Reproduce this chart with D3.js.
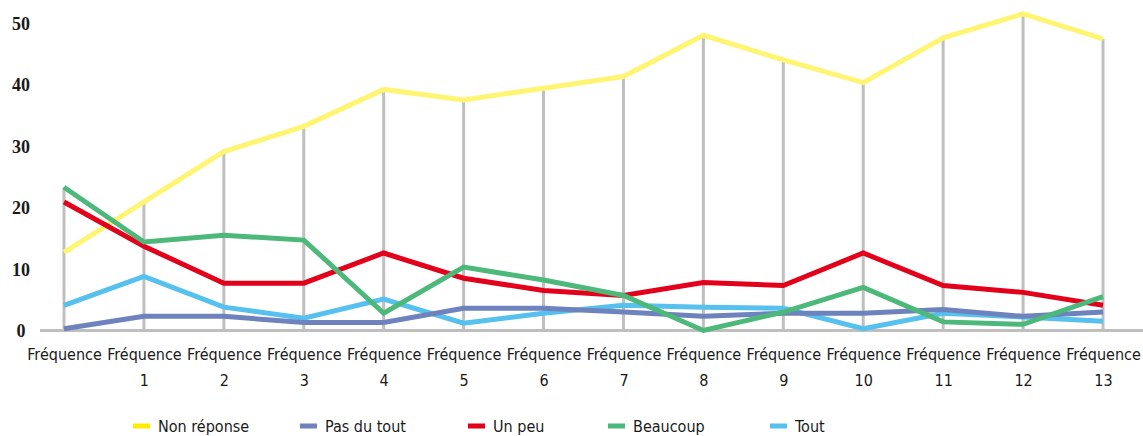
<!DOCTYPE html>
<html>
<head>
<meta charset="utf-8">
<script src="https://cdn.jsdelivr.net/npm/d3@7"></script>
<style>
  html, body { margin: 0; padding: 0; background: #fff; }
  svg { display: block; }
  .lbl { font-family: 'DejaVu Sans Condensed', 'DejaVu Sans', sans-serif; font-stretch: condensed; }
</style>
</head>
<body>
<svg id="chart" width="1143" height="436"></svg>
<script>
// ---- data ----
const categories = ["Fréquence", "Fréquence 1", "Fréquence 2", "Fréquence 3", "Fréquence 4", "Fréquence 5", "Fréquence 6",
  "Fréquence 7", "Fréquence 8", "Fréquence 9", "Fréquence 10", "Fréquence 11", "Fréquence 12", "Fréquence 13"];
const seriesNames = ["Non réponse", "Pas du tout", "Un peu", "Beaucoup", "Tout"];
const nonReponse = [12.7, 20.9, 29.1, 33.2, 39.2, 37.5, 39.4, 41.3, 48.0, 44.0, 40.3, 47.6, 51.5, 47.4];
const pasDuTout  = [0.3, 2.3, 2.3, 1.3, 1.3, 3.6, 3.6, 3.0, 2.3, 2.8, 2.8, 3.4, 2.3, 3.0];
const unPeu      = [20.9, 13.7, 7.7, 7.7, 12.6, 8.5, 6.5, 5.7, 7.8, 7.3, 12.6, 7.3, 6.2, 4.1];
const beaucoup   = [23.3, 14.4, 15.5, 14.7, 2.8, 10.3, 8.2, 5.7, 0.0, 3.0, 7.0, 1.4, 1.0, 5.5];
const tout       = [4.1, 8.8, 3.8, 2.0, 5.1, 1.2, 2.8, 4.1, 3.8, 3.6, 0.3, 2.8, 2.2, 1.5];
const yTicks = [0, 10, 20, 30, 40, 50];

// ---- styles ----
const lineColors = ["#FFF572", "#6E82BE", "#E2001A", "#4CB879", "#56C1EE"];
const swatchColors = ["#FFED00", "#6E82BE", "#E2001A", "#4CB879", "#56C1EE"];
const allSeries = [nonReponse, pasDuTout, unPeu, beaucoup, tout];
const drawOrder = [0, 4, 1, 2, 3];
const legendX = [133, 300, 468, 608, 770];

const svg = d3.select("#chart");
const x = d3.scalePoint().domain(d3.range(categories.length)).range([64, 1103]);
const y = d3.scaleLinear().domain([0, 50]).range([330.5, 23]);

// drop lines (from axis to highest point)
svg.append("g").selectAll("line")
  .data(d3.range(categories.length))
  .join("line")
  .attr("x1", i => x(i)).attr("x2", i => x(i))
  .attr("y1", y(0))
  .attr("y2", i => y(d3.max(allSeries, s => s[i])))
  .attr("stroke", "#BFBFBF").attr("stroke-width", 3);

// baseline
svg.append("line")
  .attr("x1", 40).attr("x2", 1143)
  .attr("y1", y(0)).attr("y2", y(0))
  .attr("stroke", "#BFBFBF").attr("stroke-width", 3);

// y axis labels
const yAxis = svg.append("g").attr("transform", "translate(21,0)")
  .call(d3.axisLeft(y).tickValues(yTicks).tickSize(0).tickPadding(0).tickFormat(d3.format("d")));
yAxis.select(".domain").remove();
yAxis.selectAll("text")
  .attr("text-anchor", "middle")
  .attr("dy", "0.35em")
  .style("font-family", "'Liberation Serif', 'DejaVu Serif', serif")
  .style("font-weight", "bold")
  .style("font-size", "18px")
  .attr("fill", "#1a1a1a");

// x axis labels
const xAxis = svg.append("g").attr("transform", `translate(0,${y(0)})`)
  .call(d3.axisBottom(x).tickSize(0).tickFormat(""));
xAxis.select(".domain").remove();
xAxis.selectAll(".tick").each(function(i) {
  const parts = categories[i].split(" ");
  const t = d3.select(this).append("text")
    .attr("class", "lbl")
    .attr("text-anchor", "middle")
    .attr("fill", "#1a1a1a")
    .style("font-size", "16px");
  t.append("tspan").attr("x", 0).attr("y", 29).text(parts[0]);
  if (parts[1]) t.append("tspan").attr("x", 0).attr("y", 55).text(parts[1]);
});

// series lines
const line = d3.line().x((d, i) => x(i)).y(d => y(d));
svg.append("g").selectAll("path")
  .data(drawOrder)
  .join("path")
  .attr("d", k => line(allSeries[k]))
  .attr("fill", "none")
  .attr("stroke", k => lineColors[k])
  .attr("stroke-width", 5)
  .attr("stroke-linejoin", "miter");

// legend
const leg = svg.append("g").selectAll("g")
  .data(seriesNames)
  .join("g")
  .attr("transform", (d, i) => `translate(${legendX[i]},426)`);
leg.append("rect").attr("x", 0).attr("y", -2.5).attr("width", 17).attr("height", 5)
  .attr("fill", (d, i) => swatchColors[i]);
leg.append("text").attr("class", "lbl").attr("x", 25).attr("y", 0).attr("dy", "0.35em")
  .attr("fill", "#1a1a1a")
  .style("font-size", "16px")
  .text(d => d);
</script>
</body>
</html>
